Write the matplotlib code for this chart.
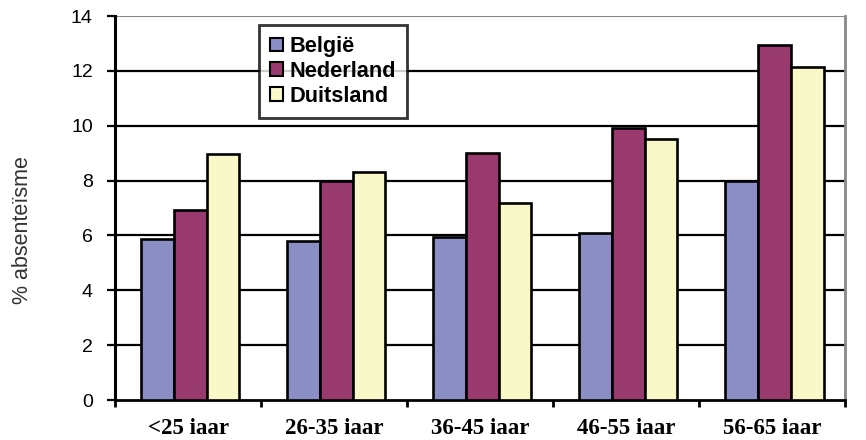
import matplotlib
matplotlib.use("Agg")
import matplotlib.pyplot as plt
import numpy as np
from matplotlib.patches import Patch

categories = ["<25 iaar", "26-35 iaar", "36-45 iaar", "46-55 iaar", "56-65 iaar"]
series_names = ["België", "Nederland", "Duitsland"]
belgie = [5.87, 5.8, 5.95, 6.1, 8.0]
nederland = [6.93, 8.0, 9.0, 9.9, 12.95]
duitsland = [8.97, 8.3, 7.2, 9.5, 12.15]
colors = ["#8a8ec4", "#993a6e", "#f9f8c8"]
yticks = [0, 2, 4, 6, 8, 10, 12, 14]

fig = plt.figure(figsize=(8.66, 4.4), dpi=100)
ax = fig.add_axes([0.1328, 0.0909, 0.9758 - 0.1328, 0.9636 - 0.0909])

x = np.arange(len(categories))
w = 0.225
for i, (vals, c) in enumerate(zip([belgie, nederland, duitsland], colors)):
    ax.bar(x + (i - 1) * w + 0.015, vals, width=w, color=c, edgecolor="black",
           linewidth=1.9, zorder=3)

ax.set_xlim(-0.5, len(categories) - 0.5)
ax.set_ylim(0, 14)
ax.set_yticks(yticks)
ax.set_yticklabels([str(t) for t in yticks], fontfamily="Liberation Sans", fontsize=14)
for t in yticks[1:-1]:
    ax.axhline(t, color="black", linewidth=1.6, zorder=1)
ax.axhline(14, color="#888888", linewidth=1.5, zorder=1)

ax.set_xticks(np.arange(-0.5, len(categories), 1.0))
ax.set_xticklabels([])
ax.set_xticks(x, minor=True)
ax.set_xticklabels(categories, minor=True, fontfamily="Liberation Serif",
                   fontweight="bold", fontsize=16.5)
ax.tick_params(axis="x", which="minor", length=0, pad=13)
ax.tick_params(axis="x", which="major", length=5, width=2, direction="out")
ax.tick_params(axis="y", length=6, width=1.6, direction="out", pad=10)

ax.spines["left"].set_linewidth(2.2)
ax.spines["bottom"].set_linewidth(2.0)
ax.spines["top"].set_visible(False)
ax.spines["right"].set_color("#888888")
ax.spines["right"].set_linewidth(2.0)

fig.text(23 / 866, 1 - 230 / 440, "% absenteïsme", fontfamily="Liberation Sans",
         fontsize=15.5, color="#333333", rotation=90, ha="center", va="center")

handles = [Patch(facecolor=c, edgecolor="black", linewidth=1.5) for c in colors]
leg = ax.legend(handles, series_names, loc="upper left",
                bbox_to_anchor=(0.197, 0.976), frameon=True, fancybox=False,
                prop={"family": "Liberation Sans", "weight": "bold", "size": 15.7},
                handlelength=0.6, handleheight=0.6, handletextpad=0.3,
                borderpad=0.5, labelspacing=0.18, borderaxespad=0)
leg.get_frame().set_edgecolor("black")
leg.get_frame().set_linewidth(2)
leg.set_zorder(5)

fig.savefig("out.png", dpi=100)
